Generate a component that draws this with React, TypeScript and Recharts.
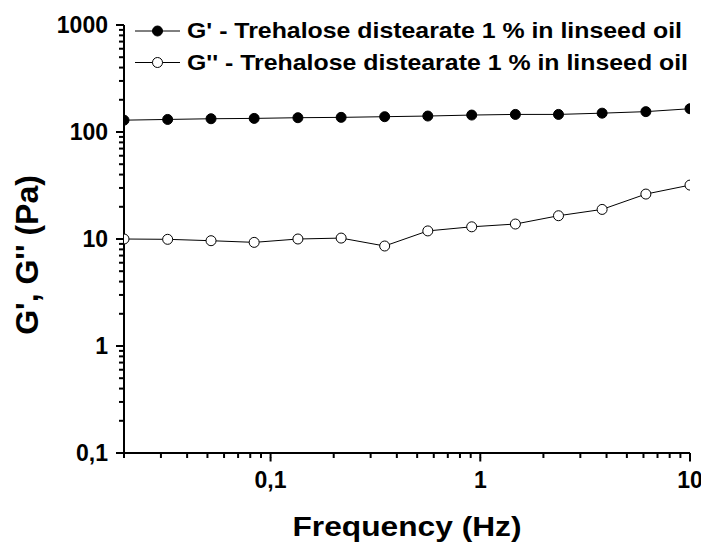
import React from "react";
import { LineChart, Line, XAxis, YAxis, Label } from "recharts";

const frequency = [0.02, 0.0323, 0.052, 0.0835, 0.135, 0.217, 0.35, 0.562, 0.91, 1.47, 2.36, 3.81, 6.16, 10];
const gPrime = [129, 131, 133, 134, 136, 137, 139, 141, 144, 146, 146, 150, 155, 165];
const gDoublePrime = [10, 9.93, 9.64, 9.3, 10, 10.2, 8.6, 11.9, 13.0, 13.8, 16.5, 18.9, 26.3, 31.9];

const seriesNames = [
  "G' - Trehalose distearate 1 % in linseed oil",
  "G'' - Trehalose distearate 1 % in linseed oil",
];

const yMajorTicks = [0.1, 1, 10, 100, 1000];
const yMajorLabels = ["0,1", "1", "10", "100", "1000"];
const xMajorTicks = [0.1, 1, 10];
const xMajorLabels = ["0,1", "1", "10"];
const yTicks = [
  0.1, 0.2, 0.3, 0.4, 0.5, 0.6, 0.7, 0.8, 0.9,
  1, 2, 3, 4, 5, 6, 7, 8, 9,
  10, 20, 30, 40, 50, 60, 70, 80, 90,
  100, 200, 300, 400, 500, 600, 700, 800, 900, 1000,
];
const xTicks = [
  0.02, 0.03, 0.04, 0.05, 0.06, 0.07, 0.08, 0.09,
  0.1, 0.2, 0.3, 0.4, 0.5, 0.6, 0.7, 0.8, 0.9,
  1, 2, 3, 4, 5, 6, 7, 8, 9, 10,
];

const yDomain = [0.1, 1000];
const xDomain = [0.02, 10];

const FONT = "'Liberation Sans', Arial, Helvetica, sans-serif";

const data = frequency.map((f, i) => ({ f, g1: gPrime[i], g2: gDoublePrime[i] }));

const labelFor = (v: number, majors: number[], labels: string[]) => {
  const idx = majors.findIndex((m) => Math.abs(m - v) / m < 1e-6);
  return idx >= 0 ? labels[idx] : null;
};

// Recharts draws 5px tick lines; majors get a 3px extension here.
const renderYTick = (props: any) => {
  const x = Number(props.x);
  const y = Number(props.y);
  const lbl = labelFor(props.payload.value, yMajorTicks, yMajorLabels);
  if (lbl === null) return <g />;
  return (
    <g>
      <rect x={x - 3} y={y - 1} width={3.5} height={2} fill="#000" />
      <text x={x - 11} y={y + 8} textAnchor="end" fontFamily={FONT} fontWeight="bold" fontSize={23} fill="#000">
        {lbl}
      </text>
    </g>
  );
};

const renderXTick = (props: any) => {
  const x = Number(props.x);
  const y = Number(props.y);
  const lbl = labelFor(props.payload.value, xMajorTicks, xMajorLabels);
  if (lbl === null) return <g />;
  return (
    <g>
      <rect x={x - 1} y={y - 0.5} width={2} height={4} fill="#000" />
      <text x={x} y={y + 30} textAnchor="middle" fontFamily={FONT} fontWeight="bold" fontSize={23} fill="#000">
        {lbl}
      </text>
    </g>
  );
};

const YTitle = (props: any) => {
  const vb = props.viewBox;
  const cx = 30;
  const cy = vb.y + vb.height / 2 + 16;
  return (
    <text
      x={cx}
      y={cy}
      transform={`rotate(-90 ${cx} ${cy})`}
      textAnchor="middle"
      fontFamily={FONT}
      fontWeight="bold"
      fontSize={32}
      fill="#000"
    >
      G', G'' (Pa)
    </text>
  );
};

const XTitle = (props: any) => {
  const vb = props.viewBox;
  return (
    <text
      x={vb.x + vb.width / 2}
      y={vb.y + 83}
      textAnchor="middle"
      fontFamily={FONT}
      fontWeight="bold"
      fontSize={27}
      textLength={229}
      lengthAdjust="spacingAndGlyphs"
      fill="#000"
    >
      Frequency (Hz)
    </text>
  );
};

const LegendOverlay = () => {
  const rows = [
    { name: seriesNames[0], fill: "#000", cy: 23, base: 29.5, len: 495 },
    { name: seriesNames[1], fill: "#fff", cy: 54.5, base: 61.5, len: 501 },
  ];
  return (
    <svg
      width={700}
      height={80}
      style={{ position: "absolute", top: 0, left: 0, display: "block", pointerEvents: "none" }}
    >
      {rows.map((r, i) => (
        <g key={i}>
          <line x1={127} x2={172} y1={r.cy} y2={r.cy} stroke="#000" strokeWidth={1} />
          <circle cx={149.5} cy={r.cy} r={5} fill={r.fill} stroke="#000" strokeWidth={1} />
          <text
            x={179}
            y={r.base}
            fontFamily={FONT}
            fontWeight="bold"
            fontSize={22}
            textLength={r.len}
            lengthAdjust="spacingAndGlyphs"
            fill="#000"
          >
            {r.name}
          </text>
        </g>
      ))}
    </svg>
  );
};

export default function App() {
  return (
    <div style={{ position: "relative", width: 700, height: 540 }}>
      <LineChart
        width={700}
        height={540}
        data={data}
        margin={{ top: 17, right: 18, left: 0, bottom: 0 }}
      >
        <XAxis
          dataKey="f"
          type="number"
          scale="log"
          domain={xDomain}
          ticks={xTicks}
          interval={0}
          allowDataOverflow
          height={95}
          tickSize={5}
          tickMargin={0}
          tick={renderXTick}
          axisLine={{ stroke: "#000", strokeWidth: 2 }}
          tickLine={{ stroke: "#000", strokeWidth: 2 }}
        >
          <Label content={<XTitle />} />
        </XAxis>
        <YAxis
          type="number"
          scale="log"
          domain={yDomain}
          ticks={yTicks}
          interval={0}
          allowDataOverflow
          width={116}
          tickSize={5}
          tickMargin={0}
          tick={renderYTick}
          axisLine={{ stroke: "#000", strokeWidth: 2 }}
          tickLine={{ stroke: "#000", strokeWidth: 2 }}
        >
          <Label content={<YTitle />} />
        </YAxis>
        <Line
          dataKey="g1"
          name={seriesNames[0]}
          stroke="#000"
          strokeWidth={1}
          dot={{ r: 5, fill: "#000", stroke: "#000", strokeWidth: 1 }}
          isAnimationActive={false}
        />
        <Line
          dataKey="g2"
          name={seriesNames[1]}
          stroke="#000"
          strokeWidth={1}
          dot={{ r: 5, fill: "#fff", stroke: "#000", strokeWidth: 1 }}
          isAnimationActive={false}
        />
      </LineChart>
      <LegendOverlay />
    </div>
  );
}
